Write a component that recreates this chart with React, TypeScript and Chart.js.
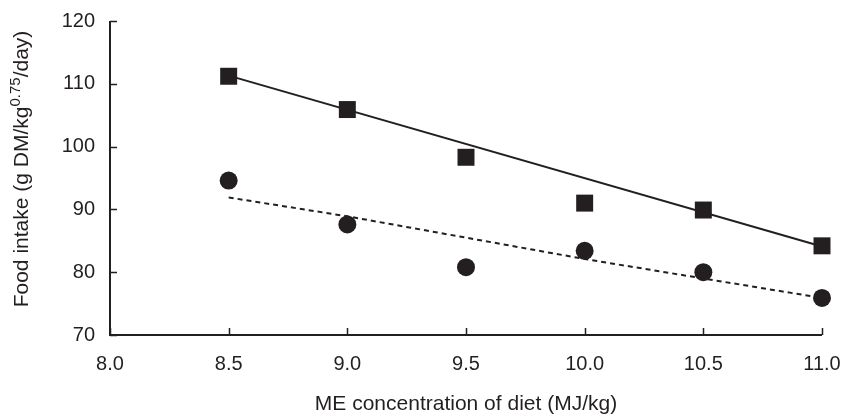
import React, { useEffect, useRef } from "react";
import { Chart, registerables } from "chart.js";

Chart.register(...registerables);

const dietME = [8.5, 9.0, 9.5, 10.0, 10.5, 11.0];
const squareIntake = [111.2, 105.9, 98.3, 91.0, 89.9, 84.2];
const circleIntake = [94.6, 87.6, 80.8, 83.4, 80.0, 75.9];
const solidFitX = [8.5, 11.0];
const solidFitY = [111.3, 84.1];
const dashedFitY = [91.9, 88.9, 85.5, 82.1, 79.0, 75.9];
const xTicks = [8.0, 8.5, 9.0, 9.5, 10.0, 10.5, 11.0];
const yTicks = [70, 80, 90, 100, 110, 120];

const xTitle = "ME concentration of diet (MJ/kg)";
const yTitleMain = "Food intake (g DM/kg";
const yTitleSup = "0.75";
const yTitleEnd = "/day)";

const INK = "#231f20";
const FONT = "'Liberation Sans', Arial, Helvetica, sans-serif";

const pts = (xs: number[], ys: number[]) => xs.map((x, i) => ({ x, y: ys[i] }));

const axesPlugin = {
  id: "customAxes",
  afterDraw(chart: any) {
    const { ctx, chartArea } = chart;
    const xs = chart.scales.x;
    const ys = chart.scales.y;
    const x0 = xs.getPixelForValue(8.0);
    const x1 = xs.getPixelForValue(11.0);
    const y0 = ys.getPixelForValue(70);
    const y1 = ys.getPixelForValue(120);
    ctx.save();
    ctx.strokeStyle = INK;
    ctx.lineWidth = 2;
    ctx.beginPath();
    ctx.moveTo(x0, y1);
    ctx.lineTo(x0, y0);
    ctx.lineTo(x1, y0);
    ctx.stroke();
    ctx.lineWidth = 1.5;
    ctx.beginPath();
    yTicks.forEach((v) => {
      const py = Math.round(ys.getPixelForValue(v)) + 0.5;
      ctx.moveTo(x0, py);
      ctx.lineTo(x0 + 7, py);
    });
    xTicks.forEach((v) => {
      const px = Math.round(xs.getPixelForValue(v)) + 0.5;
      ctx.moveTo(px, y0);
      ctx.lineTo(px, y0 - 7);
    });
    ctx.stroke();

    // x title
    ctx.fillStyle = INK;
    ctx.font = `21px ${FONT}`;
    ctx.textAlign = "center";
    ctx.textBaseline = "alphabetic";
    ctx.fillText(xTitle, (chartArea.left + chartArea.right) / 2, 410);

    // y title with superscript
    const mainFont = `21px ${FONT}`;
    const supFont = `15px ${FONT}`;
    ctx.font = mainFont;
    const w1 = ctx.measureText(yTitleMain).width;
    const w3 = ctx.measureText(yTitleEnd).width;
    ctx.font = supFont;
    const w2 = ctx.measureText(yTitleSup).width;
    const total = w1 + w2 + w3;
    ctx.translate(28, 169);
    ctx.rotate(-Math.PI / 2);
    ctx.textAlign = "left";
    let cx = -total / 2;
    ctx.font = mainFont;
    ctx.fillText(yTitleMain, cx, 0);
    cx += w1;
    ctx.font = supFont;
    ctx.fillText(yTitleSup, cx, -8);
    cx += w2;
    ctx.font = mainFont;
    ctx.fillText(yTitleEnd, cx, 0);
    ctx.restore();
  },
};

export default function App() {
  const ref = useRef<HTMLCanvasElement | null>(null);
  useEffect(() => {
    if (!ref.current) return;
    const chart = new Chart(ref.current, {
      type: "scatter",
      data: {
        datasets: [
          {
            label: "Squares",
            data: pts(dietME, squareIntake),
            pointStyle: "rect",
            pointRadius: 12,
            pointHoverRadius: 12,
            backgroundColor: INK,
            borderColor: INK,
            borderWidth: 0,
            showLine: false,
            clip: false,
          },
          {
            label: "Circles",
            data: pts(dietME, circleIntake),
            pointStyle: "circle",
            pointRadius: 9,
            pointHoverRadius: 9,
            backgroundColor: INK,
            borderColor: INK,
            borderWidth: 0,
            showLine: false,
            clip: false,
          },
          {
            label: "Solid fit",
            data: pts(solidFitX, solidFitY),
            showLine: true,
            pointRadius: 0,
            borderColor: INK,
            borderWidth: 2,
            fill: false,
            clip: false,
          },
          {
            label: "Dashed fit",
            data: pts(dietME, dashedFitY),
            showLine: true,
            pointRadius: 0,
            borderColor: INK,
            borderWidth: 2,
            borderDash: [5, 4],
            fill: false,
            clip: false,
          },
        ],
      },
      options: {
        responsive: false,
        animation: false,
        layout: { autoPadding: false, padding: { left: 0, top: 21, right: 26, bottom: 0 } },
        plugins: {
          legend: { display: false },
          tooltip: { enabled: false },
          title: { display: false },
        },
        scales: {
          x: {
            type: "linear",
            min: 8.0,
            max: 11.0,
            afterFit: (s: any) => {
              s.height = 80;
              s.paddingLeft = 0;
              s.paddingRight = 0;
            },
            afterBuildTicks: (s: any) => {
              s.ticks = xTicks.map((v) => ({ value: v }));
            },
            grid: { display: false, drawTicks: false },
            border: { display: false },
            ticks: {
              color: INK,
              font: { family: FONT, size: 20 },
              padding: 17,
              maxRotation: 0,
              autoSkip: false,
              callback: (v: any) => Number(v).toFixed(1),
            },
          },
          y: {
            type: "linear",
            min: 70,
            max: 120,
            afterFit: (s: any) => {
              s.width = 110;
              s.paddingTop = 0;
              s.paddingBottom = 0;
            },
            afterBuildTicks: (s: any) => {
              s.ticks = yTicks.map((v) => ({ value: v }));
            },
            grid: { display: false, drawTicks: false },
            border: { display: false },
            ticks: {
              color: INK,
              font: { family: FONT, size: 20 },
              padding: 15,
              autoSkip: false,
              callback: (v: any) => String(v),
            },
          },
        },
      },
      plugins: [axesPlugin],
    });
    return () => chart.destroy();
  }, []);
  return (
    <div style={{ position: "fixed", left: 0, top: 0, width: 848, height: 415, background: "#fff" }}>
      <canvas ref={ref} width={848} height={415} style={{ display: "block" }} />
    </div>
  );
}
